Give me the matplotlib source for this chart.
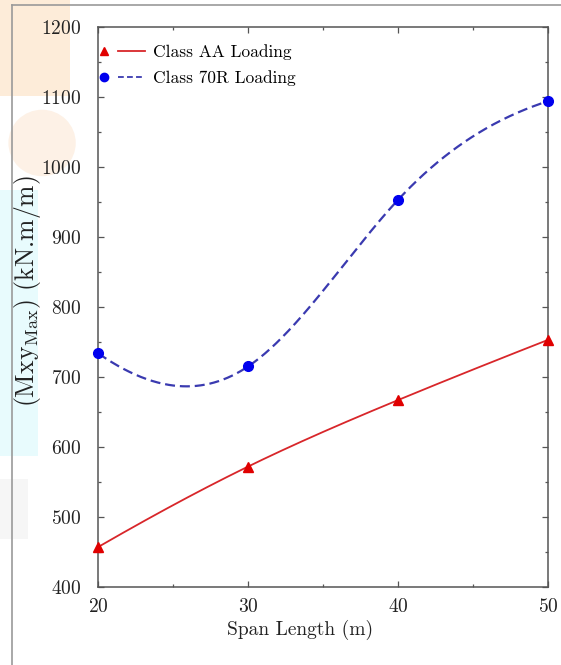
import numpy as np
import matplotlib
matplotlib.use("Agg")
import matplotlib.pyplot as plt
from matplotlib.lines import Line2D
from matplotlib.legend_handler import HandlerBase
from matplotlib.patches import Rectangle, Ellipse

plt.rcParams['font.family'] = ['cmr10', 'DejaVu Serif']
plt.rcParams['mathtext.fontset'] = 'cm'
plt.rcParams['axes.formatter.use_mathtext'] = True

# ---- data ----
span = [20, 30, 40, 50]
class_aa = [457, 572, 667, 753]
class_70r = [734, 715, 953, 1094]
x_ticks = [20, 30, 40, 50]
y_ticks = [400, 500, 600, 700, 800, 900, 1000, 1100, 1200]
series_labels = ["Class AA Loading", "Class 70R Loading"]


def smooth_curve(x, y, end_ratio=0.5, n=400):
    """Cubic spline through the points (end curvature = end_ratio * neighbour)."""
    x = np.asarray(x, float); y = np.asarray(y, float)
    k = len(x); h = np.diff(x)
    A = np.zeros((k, k)); b = np.zeros(k)
    A[0, 0] = 1; A[0, 1] = -end_ratio
    A[-1, -1] = 1; A[-1, -2] = -end_ratio
    for i in range(1, k - 1):
        A[i, i - 1] = h[i - 1]; A[i, i] = 2 * (h[i - 1] + h[i]); A[i, i + 1] = h[i]
        b[i] = 6 * ((y[i + 1] - y[i]) / h[i] - (y[i] - y[i - 1]) / h[i - 1])
    M = np.linalg.solve(A, b)
    xs = np.linspace(x[0], x[-1], n)
    idx = np.clip(np.searchsorted(x, xs) - 1, 0, k - 2)
    x0 = x[idx]; x1 = x[idx + 1]; hh = x1 - x0
    ys = (M[idx] * (x1 - xs) ** 3 / (6 * hh) + M[idx + 1] * (xs - x0) ** 3 / (6 * hh)
          + (y[idx] / hh - M[idx] * hh / 6) * (x1 - xs)
          + (y[idx + 1] / hh - M[idx + 1] * hh / 6) * (xs - x0))
    return xs, ys


class MarkerThenLine(HandlerBase):
    def create_artists(self, legend, orig_handle, xdescent, ydescent, width, height, fontsize, trans):
        y = height / 2 - ydescent
        m = Line2D([-xdescent + 0.09 * width], [y], ls='none',
                   marker=orig_handle.get_marker(), color=orig_handle.get_markerfacecolor(),
                   markeredgecolor=orig_handle.get_markeredgecolor(),
                   markersize=orig_handle.get_markersize())
        l = Line2D([-xdescent + 0.39 * width, -xdescent + width], [y, y],
                   color=orig_handle.get_color(), linestyle=orig_handle.get_linestyle(),
                   linewidth=orig_handle.get_linewidth())
        if orig_handle.get_linestyle() == '--':
            l.set_dashes((3.2, 1.8))
        m.set_transform(trans); l.set_transform(trans)
        return [m, l]


fig = plt.figure(figsize=(5.61, 6.65), dpi=100)

# faint background watermark and outer frame
fig.patches.append(Rectangle((0, 0.855), 0.125, 0.145, transform=fig.transFigure,
                             facecolor='#fdecd9', edgecolor='none', zorder=-5))
fig.patches.append(Ellipse((0.075, 0.785), 0.12, 0.10, transform=fig.transFigure,
                           facecolor='#fdf1e6', edgecolor='none', zorder=-5))
fig.patches.append(Rectangle((0, 0.315), 0.068, 0.40, transform=fig.transFigure,
                             facecolor='#e8fbfd', edgecolor='none', zorder=-5))
fig.patches.append(Rectangle((0, 0.19), 0.05, 0.09, transform=fig.transFigure,
                             facecolor='#f6f6f6', edgecolor='none', zorder=-5))
fig.lines.append(Line2D([0.021, 0.021], [0, 0.992], transform=fig.transFigure,
                        color='#9a9a9a', lw=1.2))
fig.lines.append(Line2D([0.021, 1.0], [0.992, 0.992], transform=fig.transFigure,
                        color='#9a9a9a', lw=1.2))

ax = fig.add_axes([0.1747, 0.1173, 0.8021, 0.8421])
ax.patch.set_alpha(0)
ax.set_xlim(20, 50)
ax.set_ylim(400, 1200)

xs, ys = smooth_curve(span, class_aa)
ax.plot(xs, ys, color='#d8262a', lw=1.3, zorder=3)
ax.plot(span, class_aa, ls='none', marker='^', color='#e00000', ms=7, zorder=4, clip_on=False)

xs, ys = smooth_curve(span, class_70r)
ax.plot(xs, ys, color='#3a3ab0', lw=1.6, dashes=(4.5, 2.2), zorder=3)
ax.plot(span, class_70r, ls='none', marker='o', color='#0000ee', ms=7, zorder=4, clip_on=False)

h1 = Line2D([], [], color='#d8262a', lw=1.3, ls='-', marker='^',
            markerfacecolor='#e00000', markeredgecolor='#e00000', markersize=5.5)
h2 = Line2D([], [], color='#3a3ab0', lw=1.3, ls='--', marker='o',
            markerfacecolor='#0000ee', markeredgecolor='#0000ee', markersize=6)
ax.legend([h1, h2], series_labels, handler_map={Line2D: MarkerThenLine()},
          loc='upper left', frameon=False, fontsize=12.5, handlelength=2.55,
          handletextpad=0.45, labelspacing=0.6, borderaxespad=0.0,
          bbox_to_anchor=(-0.01, 0.982))

ax.set_xticks(x_ticks)
ax.set_yticks(y_ticks)
ax.set_xticks(np.arange(20, 51, 5), minor=True)
ax.set_yticks(np.arange(400, 1201, 50), minor=True)
ax.tick_params(which='both', direction='in', top=True, right=True, colors='#555555',
               labelcolor='#222222', labelsize=14)
ax.tick_params(which='major', length=4.5, width=0.9)
ax.tick_params(axis='x', which='major', pad=8)
ax.tick_params(axis='y', which='major', pad=12)
ax.tick_params(which='minor', length=2.5, width=0.9)
for s in ax.spines.values():
    s.set_color('#555555'); s.set_linewidth(1.1)

ax.set_xlabel('Span Length (m)', fontsize=14, color='#222222')
ax.xaxis.set_label_coords(0.449, -0.058)
ax.xaxis.label.set_va('top')
ax.set_ylabel(r'$(\mathrm{Mxy}_{\mathrm{Max}})$ (kN.m/m)', fontsize=18.5,
              color='#222222')
ax.yaxis.set_label_coords(-0.122, 0.528)

fig.savefig('out.png', dpi=100)
